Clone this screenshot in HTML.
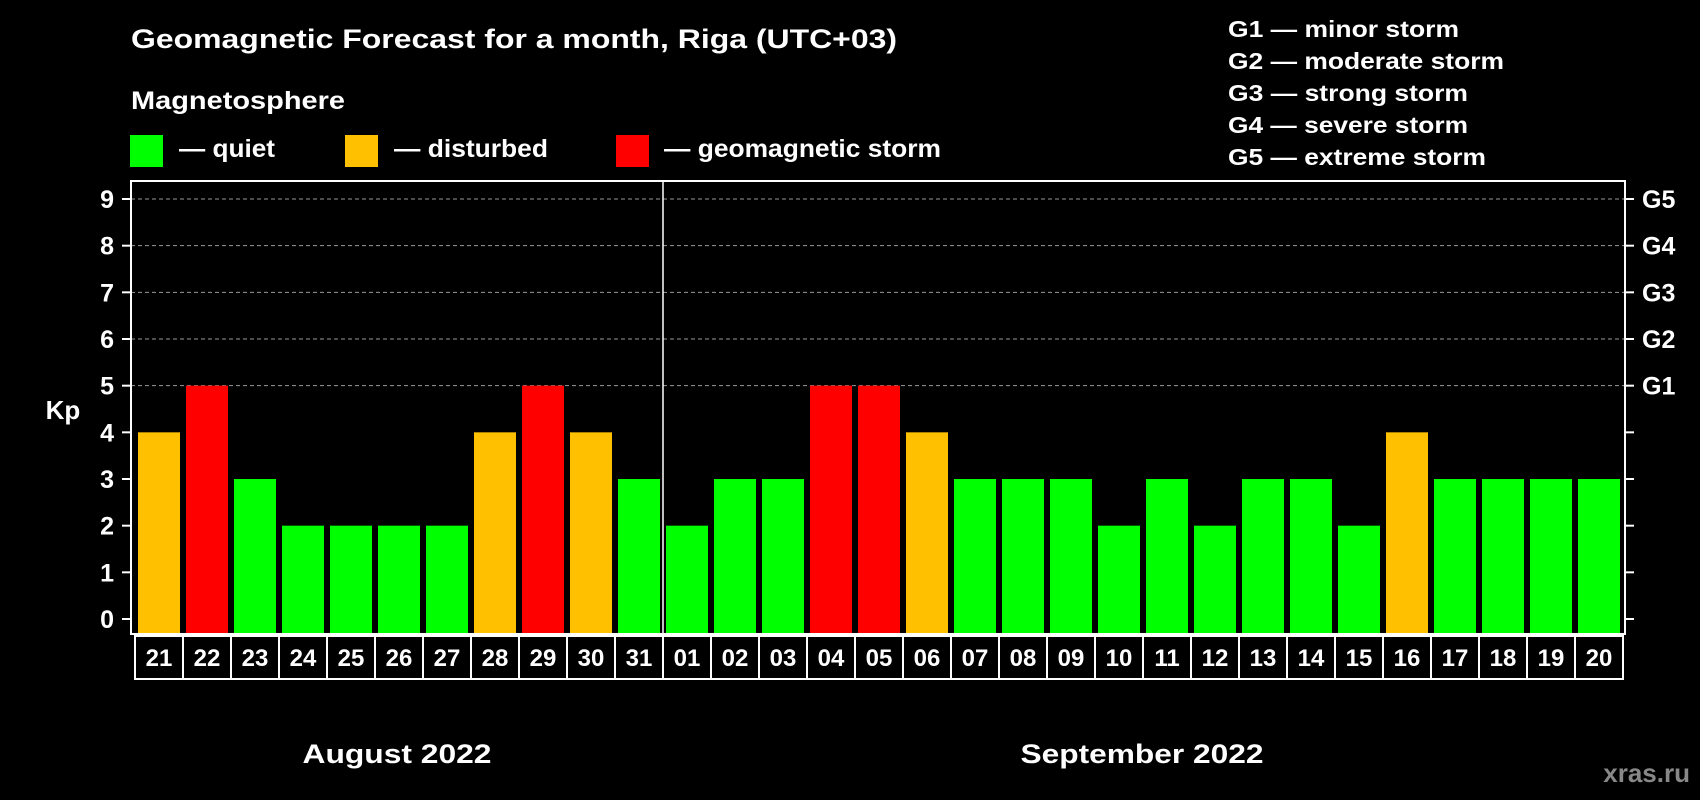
<!DOCTYPE html>
<html><head><meta charset="utf-8"><style>
html,body{margin:0;padding:0;background:#000;}
svg{display:block;font-family:"Liberation Sans",sans-serif;font-weight:bold;}
</style></head><body>
<svg id="chart" width="1700" height="800" viewBox="0 0 1700 800" xmlns="http://www.w3.org/2000/svg">
<rect width="1700" height="800" fill="#000"/>
<text x="131" y="48" fill="#fff" font-size="27" textLength="766" lengthAdjust="spacingAndGlyphs">Geomagnetic Forecast for a month, Riga (UTC+03)</text>
<text x="131" y="109" fill="#fff" font-size="25" textLength="214" lengthAdjust="spacingAndGlyphs">Magnetosphere</text>
<g><rect x="130" y="135" width="33" height="32" fill="#00ff00"/><text x="179" y="157" fill="#fff" font-size="25" textLength="96" lengthAdjust="spacingAndGlyphs">— quiet</text></g>
<g><rect x="345" y="135" width="33" height="32" fill="#ffc000"/><text x="394" y="157" fill="#fff" font-size="25" textLength="154" lengthAdjust="spacingAndGlyphs">— disturbed</text></g>
<g><rect x="616" y="135" width="33" height="32" fill="#ff0000"/><text x="664" y="157" fill="#fff" font-size="25" textLength="277" lengthAdjust="spacingAndGlyphs">— geomagnetic storm</text></g>
<g fill="#fff" font-size="23">
<text x="1228" y="37" textLength="231" lengthAdjust="spacingAndGlyphs">G1 — minor storm</text>
<text x="1228" y="69" textLength="276" lengthAdjust="spacingAndGlyphs">G2 — moderate storm</text>
<text x="1228" y="101" textLength="240" lengthAdjust="spacingAndGlyphs">G3 — strong storm</text>
<text x="1228" y="133" textLength="240" lengthAdjust="spacingAndGlyphs">G4 — severe storm</text>
<text x="1228" y="165" textLength="258" lengthAdjust="spacingAndGlyphs">G5 — extreme storm</text>
</g>
<text x="63" y="419" fill="#fff" font-size="26" text-anchor="middle">Kp</text>
<text x="397" y="763" fill="#fff" font-size="27" text-anchor="middle" textLength="189" lengthAdjust="spacingAndGlyphs">August 2022</text>
<text x="1142" y="763" fill="#fff" font-size="27" text-anchor="middle" textLength="243" lengthAdjust="spacingAndGlyphs">September 2022</text>
<text x="1690" y="782" fill="#888" font-size="26" text-anchor="end">xras.ru</text>
<g id="plot"></g>
</svg>
<script>
const days = ["21","22","23","24","25","26","27","28","29","30","31","01","02","03","04","05","06","07","08","09","10","11","12","13","14","15","16","17","18","19","20"];
const kpValues = [4,5,3,2,2,2,2,4,5,4,3,2,3,3,5,5,4,3,3,3,2,3,2,3,3,2,4,3,3,3,3];
const yTicks = [0,1,2,3,4,5,6,7,8,9];
const gLabels = ["G1","G2","G3","G4","G5"];
const gLevels = [5,6,7,8,9];
const monthBreakIndex = 11;

const NS = "http://www.w3.org/2000/svg";
const plotG = document.getElementById("plot");
const pLeft = 131, pRight = 1625, pTop = 181, pBottom = 634;
const yZero = 619, unit = (619 - 199) / 9;
const pitch = 48, barW = 42, firstX = 138;
function yScale(v){ return yZero - v * unit; }
function xScale(i){ return firstX + i * pitch; }
function barColor(v){ return v >= 5 ? "#ff0000" : (v >= 4 ? "#ffc000" : "#00ff00"); }
function mk(tag, attrs){ const e = document.createElementNS(NS, tag); for (const k in attrs) e.setAttribute(k, attrs[k]); plotG.appendChild(e); return e; }

gLevels.forEach((v) => {
  const l = mk("line", {x1:pLeft, x2:pRight, y1:yScale(v), y2:yScale(v), stroke:"#999", "stroke-width":1, "stroke-dasharray":"4 3"});
  
  
});
kpValues.forEach((v, i) => {
  const b = mk("rect", {x:xScale(i), y:yScale(v), width:barW, height:pBottom - yScale(v), fill:barColor(v)});
  
  
});
const fr = mk("rect", {x:pLeft, y:pTop, width:pRight-pLeft, height:pBottom-pTop, fill:"none", stroke:"#fff", "stroke-width":2});


const sep = mk("line", {x1:135 + monthBreakIndex*pitch, x2:135 + monthBreakIndex*pitch, y1:pTop, y2:pBottom, stroke:"#fff", "stroke-width":1.5});


yTicks.forEach((v) => {
  const t1 = mk("line", {x1:122, x2:pLeft, y1:yScale(v), y2:yScale(v), stroke:"#fff", "stroke-width":2});
  
  
  const t2 = mk("line", {x1:pRight, x2:1634, y1:yScale(v), y2:yScale(v), stroke:"#fff", "stroke-width":2});
  
  
  const tx = mk("text", {x:114, y:yScale(v)+9, fill:"#fff", "font-size":25, "text-anchor":"end"});
  tx.textContent = String(v);
  
  
});
gLabels.forEach((g, i) => {
  const tx = mk("text", {x:1642, y:yScale(gLevels[i])+9, fill:"#fff", "font-size":25});
  tx.textContent = g;
  
  
});
const box = mk("rect", {x:135, y:636, width:1623-135, height:43, fill:"none", stroke:"#fff", "stroke-width":2});


days.forEach((d, i) => {
  if (i > 0) {
    const dl = mk("line", {x1:135+i*pitch, x2:135+i*pitch, y1:636, y2:679, stroke:"#fff", "stroke-width":2});
    
    
  }
  const tx = mk("text", {x:xScale(i)+barW/2, y:666, fill:"#fff", "font-size":24, "text-anchor":"middle"});
  tx.textContent = d;
  
  
});
</script>
</body></html>
